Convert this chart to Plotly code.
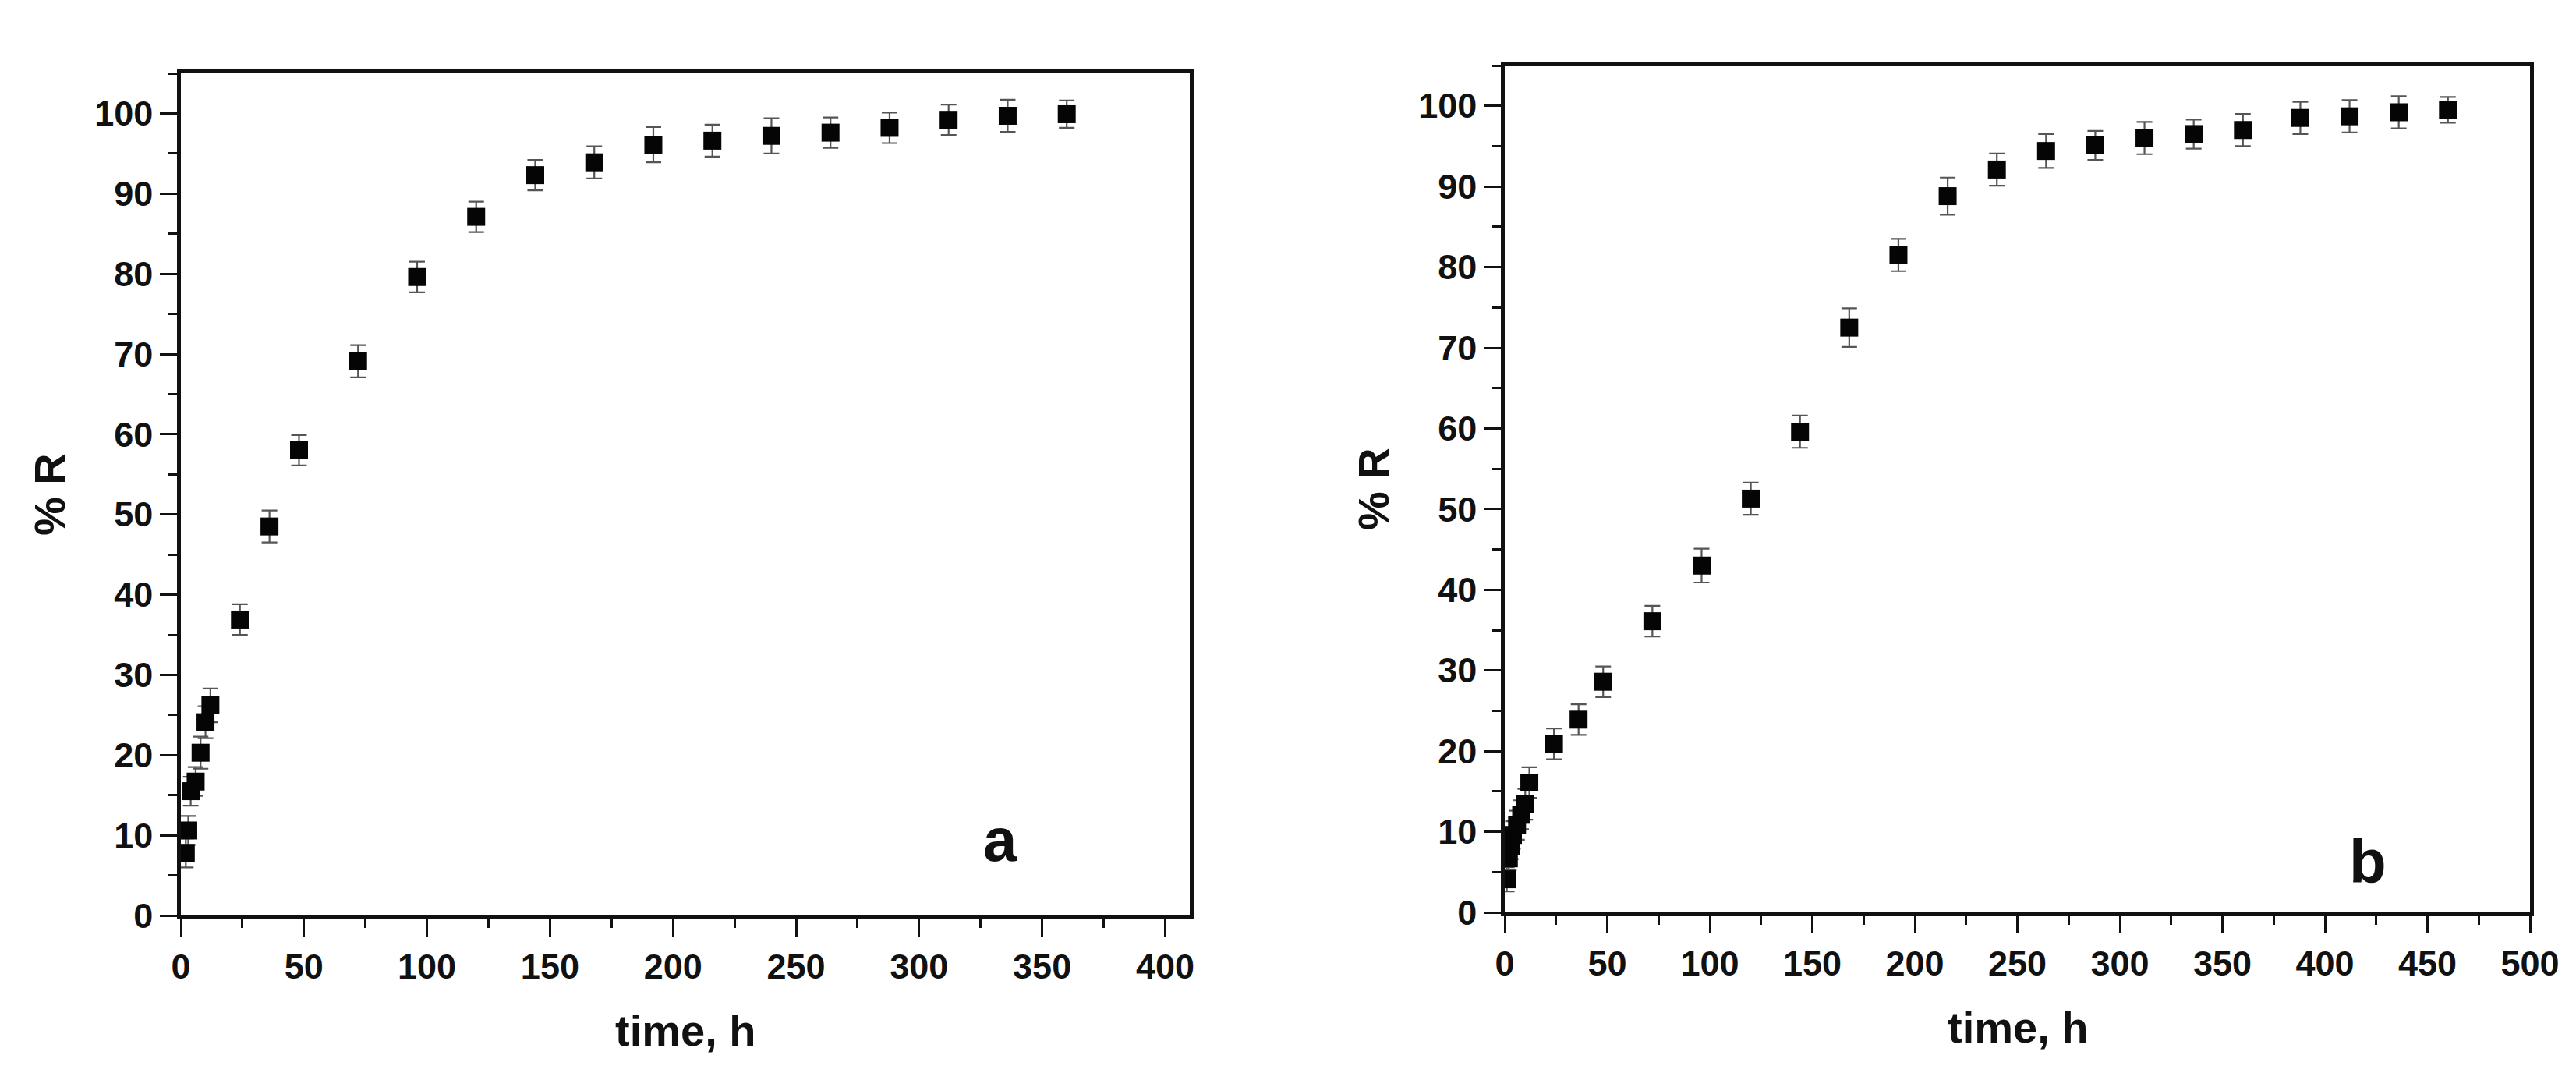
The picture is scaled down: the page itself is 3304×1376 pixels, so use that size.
import plotly.graph_objects as go

# ---- Panel a data ----
time_a = [2, 3, 4, 6, 8, 10, 12, 24, 36, 48, 72, 96, 120, 144, 168, 192, 216, 240, 264, 288, 312, 336, 360]
r_a = [7.8, 10.6, 15.5, 16.7, 20.3, 24.1, 26.2, 36.9, 48.5, 58.0, 69.1, 79.6, 87.1, 92.3, 93.9, 96.1, 96.6, 97.2, 97.6, 98.2, 99.2, 99.7, 99.9]
err_a = [1.8, 1.8, 1.8, 1.8, 2.0, 2.0, 2.1, 1.9, 2.0, 1.9, 2.0, 1.9, 1.9, 1.9, 2.0, 2.2, 2.0, 2.2, 1.9, 1.9, 1.9, 2.0, 1.7]

# ---- Panel b data ----
time_b = [1, 2, 3, 4, 6, 8, 10, 12, 24, 36, 48, 72, 96, 120, 144, 168, 192, 216, 240, 264, 288, 312, 336, 360, 388, 412, 436, 460]
r_b = [4.1, 6.7, 8.2, 9.6, 10.8, 12.1, 13.4, 16.1, 20.9, 23.9, 28.6, 36.1, 43.0, 51.3, 59.6, 72.5, 81.5, 88.8, 92.1, 94.4, 95.1, 96.0, 96.5, 97.0, 98.5, 98.7, 99.2, 99.5]
err_b = [1.5, 1.5, 1.6, 1.7, 1.8, 1.8, 1.9, 1.9, 1.9, 1.9, 1.9, 1.9, 2.1, 2.0, 2.0, 2.4, 2.0, 2.3, 2.0, 2.1, 1.8, 2.0, 1.8, 2.0, 2.0, 2.0, 2.0, 1.6]

x_ticks_a = [0, 50, 100, 150, 200, 250, 300, 350, 400]
x_ticks_b = [0, 50, 100, 150, 200, 250, 300, 350, 400, 450, 500]
y_ticks = [0, 10, 20, 30, 40, 50, 60, 70, 80, 90, 100]

W, H = 3304, 1376
FONT = "Liberation Sans, Arial, sans-serif"
INK = "#111111"

fig = go.Figure()

def add_series(t, r, e, xa, ya):
    fig.add_trace(go.Scatter(
        x=t, y=r, mode="markers", xaxis=xa, yaxis=ya,
        marker=dict(symbol="square", size=23, color="#050505", line=dict(width=0)),
        error_y=dict(type="data", array=e, visible=True, color="#555555", thickness=2.2, width=10),
        showlegend=False,
    ))

add_series(time_a, r_a, err_a, "x", "y")
add_series(time_b, r_b, err_b, "x2", "y2")

# pixel geometry of plot boxes
ax_a = (224, 1518, 86, 1166)
ax_b = (1922, 3237, 76, 1162)

def xdom(b):
    return [b[0] / W, b[1] / W]

def ydom(b):
    return [1 - b[3] / H, 1 - b[2] / H]

common_axis = dict(
    showline=True, linecolor=INK, linewidth=4.5, mirror=True,
    ticks="outside", ticklen=22, tickwidth=3, tickcolor=INK,
    showgrid=False, zeroline=False,
    tickfont=dict(family=FONT, size=45, color=INK, weight="bold"),
    automargin=False,
)

fig.update_layout(
    width=W, height=H,
    margin=dict(l=0, r=0, t=0, b=0),
    paper_bgcolor="white", plot_bgcolor="white",
    xaxis=dict(domain=xdom(ax_a), range=[0, 410], tickvals=x_ticks_a, anchor="y",
               minor=dict(ticks="outside", ticklen=11, tickwidth=3, tickcolor=INK, dtick=25), **common_axis),
    yaxis=dict(domain=ydom(ax_a), range=[0, 105], tickvals=y_ticks, anchor="x",
               minor=dict(ticks="outside", ticklen=11, tickwidth=3, tickcolor=INK, dtick=5), **common_axis),
    xaxis2=dict(domain=xdom(ax_b), range=[0, 500], tickvals=x_ticks_b, anchor="y2",
                minor=dict(ticks="outside", ticklen=11, tickwidth=3, tickcolor=INK, dtick=25), **common_axis),
    yaxis2=dict(domain=ydom(ax_b), range=[0, 105], tickvals=y_ticks, anchor="x2",
                minor=dict(ticks="outside", ticklen=11, tickwidth=3, tickcolor=INK, dtick=5), **common_axis),
)

title_font = dict(family=FONT, size=56, color=INK, weight="bold")
annots = [
    dict(text="time, h", x=(ax_a[0] + ax_a[1]) / 2 / W, y=1 - 1313 / H, xref="paper", yref="paper",
         showarrow=False, font=title_font, xanchor="center", yanchor="middle"),
    dict(text="time, h", x=(ax_b[0] + ax_b[1]) / 2 / W, y=1 - 1309 / H, xref="paper", yref="paper",
         showarrow=False, font=title_font, xanchor="center", yanchor="middle"),
    dict(text="% R", x=55 / W, y=1 - (ax_a[2] + ax_a[3]) / 2 / H, xref="paper", yref="paper",
         showarrow=False, font=title_font, textangle=-90, xanchor="center", yanchor="middle"),
    dict(text="% R", x=1753 / W, y=1 - (ax_b[2] + ax_b[3]) / 2 / H, xref="paper", yref="paper",
         showarrow=False, font=title_font, textangle=-90, xanchor="center", yanchor="middle"),
    dict(text="a", x=333, y=9.4, xref="x", yref="y", showarrow=False,
         font=dict(family=FONT, size=78, color=INK, weight="bold"), xanchor="center", yanchor="middle"),
    dict(text="b", x=421, y=6.3, xref="x2", yref="y2", showarrow=False,
         font=dict(family=FONT, size=78, color=INK, weight="bold"), xanchor="center", yanchor="middle"),
]
fig.update_layout(annotations=annots)

fig.write_html("out.html")
